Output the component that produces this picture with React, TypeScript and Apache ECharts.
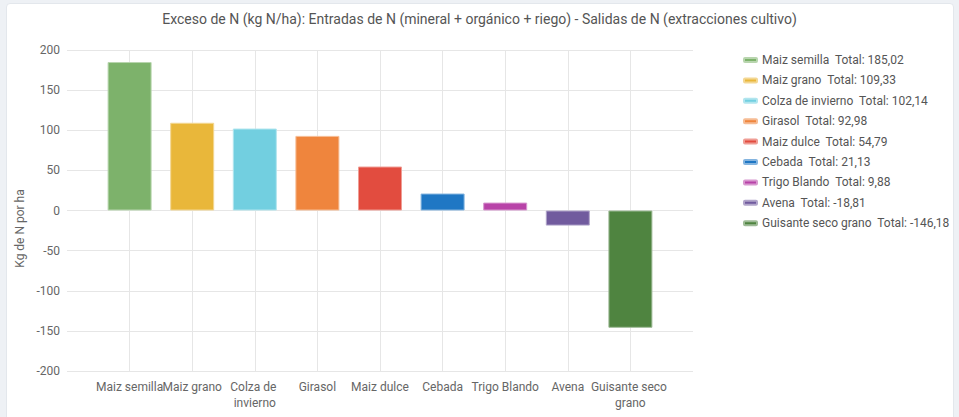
import React, { useEffect, useRef } from "react";
import * as echarts from "echarts";

const categories = [
  "Maiz semilla",
  "Maiz grano",
  "Colza de invierno",
  "Girasol",
  "Maiz dulce",
  "Cebada",
  "Trigo Blando",
  "Avena",
  "Guisante seco grano",
];
const values = [185.02, 109.33, 102.14, 92.98, 54.79, 21.13, 9.88, -18.81, -146.18];
const colors = [
  "#7db26b",
  "#e9b73a",
  "#72cfe0",
  "#ef853d",
  "#e24c3f",
  "#1f77c4",
  "#b843a8",
  "#715b9e",
  "#4f8440",
];
const yTicks = { min: -200, max: 200, interval: 50 };
const xSlots = ["", ...categories, ""];

const title =
  "Exceso de N (kg N/ha): Entradas de N (mineral + orgánico + riego) - Salidas de N (extracciones cultivo)";
const yName = "Kg de N por ha";

function lighten(hex: string, t: number) {
  const n = parseInt(hex.slice(1), 16);
  const r = (n >> 16) & 255, g = (n >> 8) & 255, b = n & 255;
  const m = (c: number) => Math.round(c + (255 - c) * t);
  return `rgb(${m(r)},${m(g)},${m(b)})`;
}

const fmt = (v: number) => v.toFixed(2).replace(".", ",");

export default function App() {
  const ref = useRef<HTMLDivElement>(null);
  useEffect(() => {
    document.body.style.margin = "0";
    if (!ref.current) return;
    const chart = echarts.init(ref.current, null, { renderer: "svg" });
    const font = "Roboto";
    chart.setOption({
      animation: false,
      textStyle: { fontFamily: font },
      title: {
        text: title,
        left: "center",
        top: 7,
        textStyle: { fontFamily: font, fontSize: 14, fontWeight: "normal", color: "#555" },
      },
      legend: {
        orient: "vertical",
        left: 738,
        top: 48,
        icon: "roundRect",
        itemWidth: 13,
        itemHeight: 4,
        itemGap: 6.4,
        textStyle: { fontFamily: font, fontSize: 12, color: "#555", lineHeight: 14 },
        data: categories,
        formatter: (name: string) => {
          const i = categories.indexOf(name);
          return `${name}  Total: ${fmt(values[i])}`;
        },
      },
      grid: { left: 67, right: 266, top: 50, bottom: 46, containLabel: false },
      xAxis: {
        type: "category",
        boundaryGap: false,
        data: xSlots,
        axisLine: { show: false },
        axisTick: { show: false },
        axisLabel: {
          interval: 0,
          margin: 8,
          color: "#666",
          fontSize: 12,
          fontFamily: font,
          width: 82,
          overflow: "break",
          lineHeight: 16,
        },
        splitLine: {
          show: true,
          interval: 0,
          showMinLine: false,
          showMaxLine: false,
          lineStyle: { color: "#e6e6e6", width: 1 },
        },
      },
      yAxis: {
        type: "value",
        min: yTicks.min,
        max: yTicks.max,
        interval: yTicks.interval,
        name: yName,
        nameLocation: "middle",
        nameGap: 37,
        nameTextStyle: { fontFamily: font, fontSize: 12, color: "#666", padding: [0, 36, 0, 0] },
        axisLine: { show: false },
        axisTick: { show: false },
        axisLabel: { margin: 7, color: "#666", fontSize: 12, fontFamily: font },
        splitLine: { lineStyle: { color: "#e6e6e6", width: 1 } },
      },
      series: categories.map((c, i) => ({
        name: c,
        type: "bar",
        stack: "total",
        barWidth: 44,
        itemStyle: {
          color: colors[i],
          borderColor: lighten(colors[i], 0.45),
          borderWidth: 1,
        },
        data: xSlots.map((_, j) => (j === i + 1 ? values[i] : null)),
      })),
    });
    return () => chart.dispose();
  }, []);
  return (
    <div
      style={{
        position: "fixed",
        left: 0,
        top: 0,
        width: 959,
        height: 417,
        background: "#eef1f5",
        overflow: "hidden",
      }}
    >
      <div
        style={{
          position: "absolute",
          left: 6,
          top: 3,
          width: 946,
          height: 430,
          background: "#fff",
          border: "1px solid #e3e7ec",
          borderRadius: 4,
        }}
      />
      <div ref={ref} style={{ position: "absolute", left: 0, top: 0, width: 959, height: 417 }} />
    </div>
  );
}
